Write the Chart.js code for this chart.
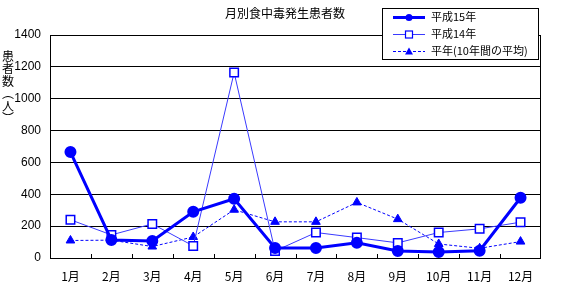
<!DOCTYPE html>
<html lang="ja">
<head>
  <meta charset="UTF-8">
  <title>月別食中毒発生患者数</title>
  <script src="https://cdn.jsdelivr.net/npm/chart.js"></script>
  <style>
    html, body { margin: 0; padding: 0; background: #fff; }
    #wrap { width: 565px; height: 297px; }
  </style>
</head>
<body>
  <div id="wrap"><canvas id="foodChart" width="565" height="297"></canvas></div>

  <script>
    // data
    const months = ['1月', '2月', '3月', '4月', '5月', '6月', '7月', '8月', '9月', '10月', '11月', '12月'];
    const h15 = [665, 113, 107, 290, 372, 63, 63, 95, 44, 38, 46, 378];
    const h14 = [240, 145, 214, 76, 1164, 44, 160, 128, 95, 160, 183, 225];
    const avg10 = [110, 112, 72, 132, 303, 227, 227, 349, 244, 88, 61, 103];
    const yTicks = [0, 200, 400, 600, 800, 1000, 1200, 1400];

    const FONT = '"Noto Sans CJK JP", "DejaVu Sans", sans-serif';
    const NUM_FONT = '"Liberation Sans Narrow", "Liberation Sans", sans-serif';
    const BLUE = '#0000ff';

    // frame, inner ticks, title, vertical y label and legend box
    const decor = {
      id: 'decor',
      beforeDatasetsDraw(chart) {
        const { ctx, chartArea: a, scales: { x } } = chart;
        ctx.save();
        ctx.strokeStyle = '#000';
        ctx.lineWidth = 1;
        ctx.strokeRect(a.left + 0.5, a.top + 0.5, a.right - a.left - 1, a.bottom - a.top);
        const half = (x.getPixelForValue(1) - x.getPixelForValue(0)) / 2;
        ctx.beginPath();
        for (let i = 1; i < months.length; i++) {
          const px = Math.round(x.getPixelForValue(i) - half) + 0.5;
          ctx.moveTo(px, a.bottom);
          ctx.lineTo(px, a.bottom - 4);
        }
        ctx.stroke();
        ctx.restore();
      },
      afterDraw(chart) {
        const { ctx } = chart;
        ctx.save();
        ctx.fillStyle = '#000';
        ctx.textAlign = 'center';
        ctx.textBaseline = 'middle';
        ctx.font = '12px ' + FONT;
        ctx.fillText('月別食中毒発生患者数', 285, 13);

        ctx.font = '12px ' + FONT;
        ['患', '者', '数', '︵', '人', '︶'].forEach((c, i) => {
          ctx.fillText(c, 8, 56 + i * 12.5);
        });

        // legend
        const bx = 382, by = 8, bw = 156, bh = 51;
        ctx.fillStyle = '#fff';
        ctx.fillRect(bx, by, bw, bh);
        ctx.strokeStyle = '#000';
        ctx.lineWidth = 1;
        ctx.strokeRect(bx + 0.5, by + 0.5, bw, bh);
        const rows = [17, 34, 51];
        chart.data.datasets.forEach((ds, i) => {
          const y = rows[i] + 0.5;
          ctx.strokeStyle = ds.borderColor;
          ctx.lineWidth = ds.borderWidth;
          ctx.setLineDash(ds.borderDash || []);
          ctx.beginPath();
          ctx.moveTo(393, y);
          ctx.lineTo(425, y);
          ctx.stroke();
          ctx.setLineDash([]);
          ctx.fillStyle = ds.pointBackgroundColor;
          ctx.strokeStyle = ds.pointBorderColor;
          ctx.lineWidth = 1.2;
          if (ds.pointStyle === 'circle') {
            ctx.beginPath(); ctx.arc(409, y, 3.5, 0, Math.PI * 2); ctx.fill();
          } else if (ds.pointStyle === 'rect') {
            ctx.fillRect(405.5, y - 3.5, 7, 7); ctx.strokeRect(405.5, y - 3.5, 7, 7);
          } else {
            ctx.beginPath(); ctx.moveTo(409, y - 4); ctx.lineTo(413, y + 3); ctx.lineTo(405, y + 3); ctx.closePath(); ctx.fill();
          }
          ctx.fillStyle = '#000';
          ctx.textAlign = 'left';
          ctx.font = '11px ' + FONT;
          ctx.fillText(ds.label, 431, rows[i]);
        });
        ctx.restore();
      }
    };

    const ctx = document.getElementById('foodChart').getContext('2d');
    new Chart(ctx, {
      type: 'line',
      data: {
        labels: months,
        datasets: [
          {
            label: '平成15年',
            data: h15,
            borderColor: BLUE,
            borderWidth: 3,
            pointStyle: 'circle',
            pointRadius: 4.5,
            pointBackgroundColor: BLUE,
            pointBorderColor: BLUE,
            order: 1
          },
          {
            label: '平成14年',
            data: h14,
            borderColor: '#3a3aff',
            borderWidth: 1,
            pointStyle: 'rect',
            pointRadius: 6,
            pointBorderWidth: 1.5,
            pointBackgroundColor: '#fff',
            pointBorderColor: BLUE,
            order: 2
          },
          {
            label: '平年(10年間の平均)',
            data: avg10,
            borderColor: BLUE,
            borderWidth: 1,
            borderDash: [3, 2],
            pointStyle: 'triangle',
            pointRadius: 5,
            pointBackgroundColor: BLUE,
            pointBorderColor: BLUE,
            order: 3
          }
        ]
      },
      options: {
        responsive: false,
        animation: false,
        layout: { padding: { left: 0, top: 35, right: 24, bottom: 0 } },
        plugins: {
          legend: { display: false },
          title: { display: false },
          tooltip: { enabled: false }
        },
        scales: {
          x: {
            offset: true,
            grid: { display: false },
            border: { display: false },
            ticks: { color: '#000', font: { family: FONT, size: 12 }, padding: 3, maxRotation: 0 },
            afterFit(scale) { scale.height = 39; }
          },
          y: {
            min: 0,
            max: 1400,
            afterBuildTicks(scale) { scale.ticks = yTicks.map(v => ({ value: v })); },
            grid: { color: '#000', lineWidth: 1, drawTicks: false },
            border: { display: false },
            ticks: {
              color: '#000',
              font: { family: NUM_FONT, size: 12 },
              padding: 9,
              callback: v => String(v)
            },
            afterFit(scale) { scale.width = 50; }
          }
        }
      },
      plugins: [decor]
    });
  </script>
</body>
</html>
